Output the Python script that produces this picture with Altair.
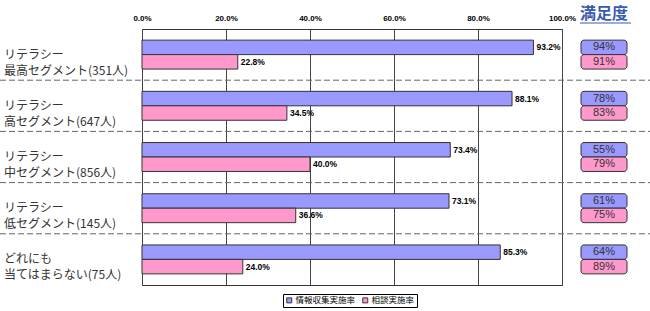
import altair as alt
import pandas as pd

categories = [
    "リテラシー\n最高セグメント(351人)",
    "リテラシー\n高セグメント(647人)",
    "リテラシー\n中セグメント(856人)",
    "リテラシー\n低セグメント(145人)",
    "どれにも\n当てはまらない(75人)",
]
series = ["情報収集実施率", "相談実施率"]
info_rate = [93.2, 88.1, 73.4, 73.1, 85.3]
consult_rate = [22.8, 34.5, 40.0, 36.6, 24.0]
sat_info = [94, 78, 55, 61, 64]
sat_consult = [91, 83, 79, 75, 89]
x_ticks = [0, 20, 40, 60, 80, 100]
sat_title = "満足度"

rows = []
for i, c in enumerate(categories):
    rows.append({"cat": c, "series": series[0], "value": info_rate[i], "sat": sat_info[i]})
    rows.append({"cat": c, "series": series[1], "value": consult_rate[i], "sat": sat_consult[i]})
df = pd.DataFrame(rows)
cat_df = pd.DataFrame({"cat": categories})
sep_df = pd.DataFrame({"cat": categories[:-1]})
title_df = pd.DataFrame({"t": [sat_title]})

y_enc = alt.Y("cat:N", sort=categories, axis=None,
              scale=alt.Scale(paddingInner=0, paddingOuter=0))
yoff_enc = alt.YOffset("series:N", sort=series,
                       scale=alt.Scale(paddingInner=0, paddingOuter=0.77))
color_scale = alt.Scale(domain=series, range=["#9999FF", "#FF99CC"])

x_enc = alt.X("value:Q", scale=alt.Scale(domain=[0, 100], nice=False),
              axis=alt.Axis(orient="top", values=x_ticks, title=None, ticks=False,
                            domain=False, grid=True, gridColor="#444", gridWidth=1,
                            labelExpr="format(datum.value, '.1f') + '%'",
                            labelFont="Liberation Sans", labelFontWeight="bold",
                            labelFontSize=8, labelColor="#000", labelPadding=7,
                            labelFlush=False))

bars = alt.Chart(df).mark_bar(stroke="#333", strokeWidth=1).encode(
    x=x_enc,
    y=y_enc,
    yOffset=yoff_enc,
    color=alt.Color("series:N", sort=series, scale=color_scale,
                    legend=alt.Legend(orient="none", legendX=141, legendY=265,
                                      direction="horizontal", title=None,
                                      strokeColor="#000", fillColor="#fff",
                                      padding=2, labelFontSize=8.5,
                                      labelFont="Noto Sans CJK JP", labelColor="#000",
                                      symbolType="square", symbolSize=25,
                                      symbolStrokeColor="#333", symbolStrokeWidth=1,
                                      columnPadding=4, labelOffset=2)),
)

labels = alt.Chart(df).transform_calculate(
    lbl="format(datum.value, '.1f') + '%'"
).mark_text(align="left", baseline="middle", dx=3, font="Liberation Sans",
            fontWeight="bold", fontSize=8.5, color="#000").encode(
    x="value:Q", y=y_enc, yOffset=yoff_enc, text="lbl:N",
)

sep = alt.Chart(sep_df).mark_rule(strokeDash=[6, 3], color="#666", strokeWidth=1).encode(
    y=alt.Y("cat:N", sort=categories, bandPosition=1, axis=None),
    x=alt.value(-142), x2=alt.value(508),
)

cat_text = alt.Chart(cat_df).mark_text(align="left", baseline="middle", lineBreak="\n",
                                        lineHeight=16, fontSize=12, color="#333",
                                        font="Noto Sans CJK JP").encode(
    x=alt.value(-138), y=y_enc, text="cat:N",
)

sat_box = alt.Chart(df).mark_rect(cornerRadius=3, stroke="#333", strokeWidth=1).encode(
    x=alt.value(439), x2=alt.value(485), y=y_enc, yOffset=yoff_enc,
    color=alt.Color("series:N", sort=series, scale=color_scale, legend=None),
)

sat_text = alt.Chart(df).transform_calculate(
    lbl="datum.sat + '%'"
).mark_text(align="center", baseline="middle", fontSize=11, color="#333",
            font="Liberation Sans").encode(
    x=alt.value(462), y=y_enc, yOffset=yoff_enc, text="lbl:N",
)

title_text = alt.Chart(title_df).mark_text(align="left", baseline="middle", fontSize=16,
                                           fontWeight="bold", color="#3A5BB0",
                                           font="Noto Sans CJK JP").encode(
    x=alt.value(438), y=alt.value(-15), text="t:N",
)
title_line = alt.Chart(title_df).mark_rule(color="#3A5BB0", strokeWidth=1).encode(
    x=alt.value(438), x2=alt.value(489), y=alt.value(-6),
)

chart = alt.layer(sep, bars, labels, cat_text, sat_box, sat_text, title_text, title_line).properties(
    width=420, height=256,
    padding={"left": 142, "top": 29, "right": 88, "bottom": 26},
    autosize="none",
    background="#ffffff",
).configure_view(stroke="#333", strokeWidth=1)

chart.save("out.html", embed_options={"renderer": "svg", "actions": False})
